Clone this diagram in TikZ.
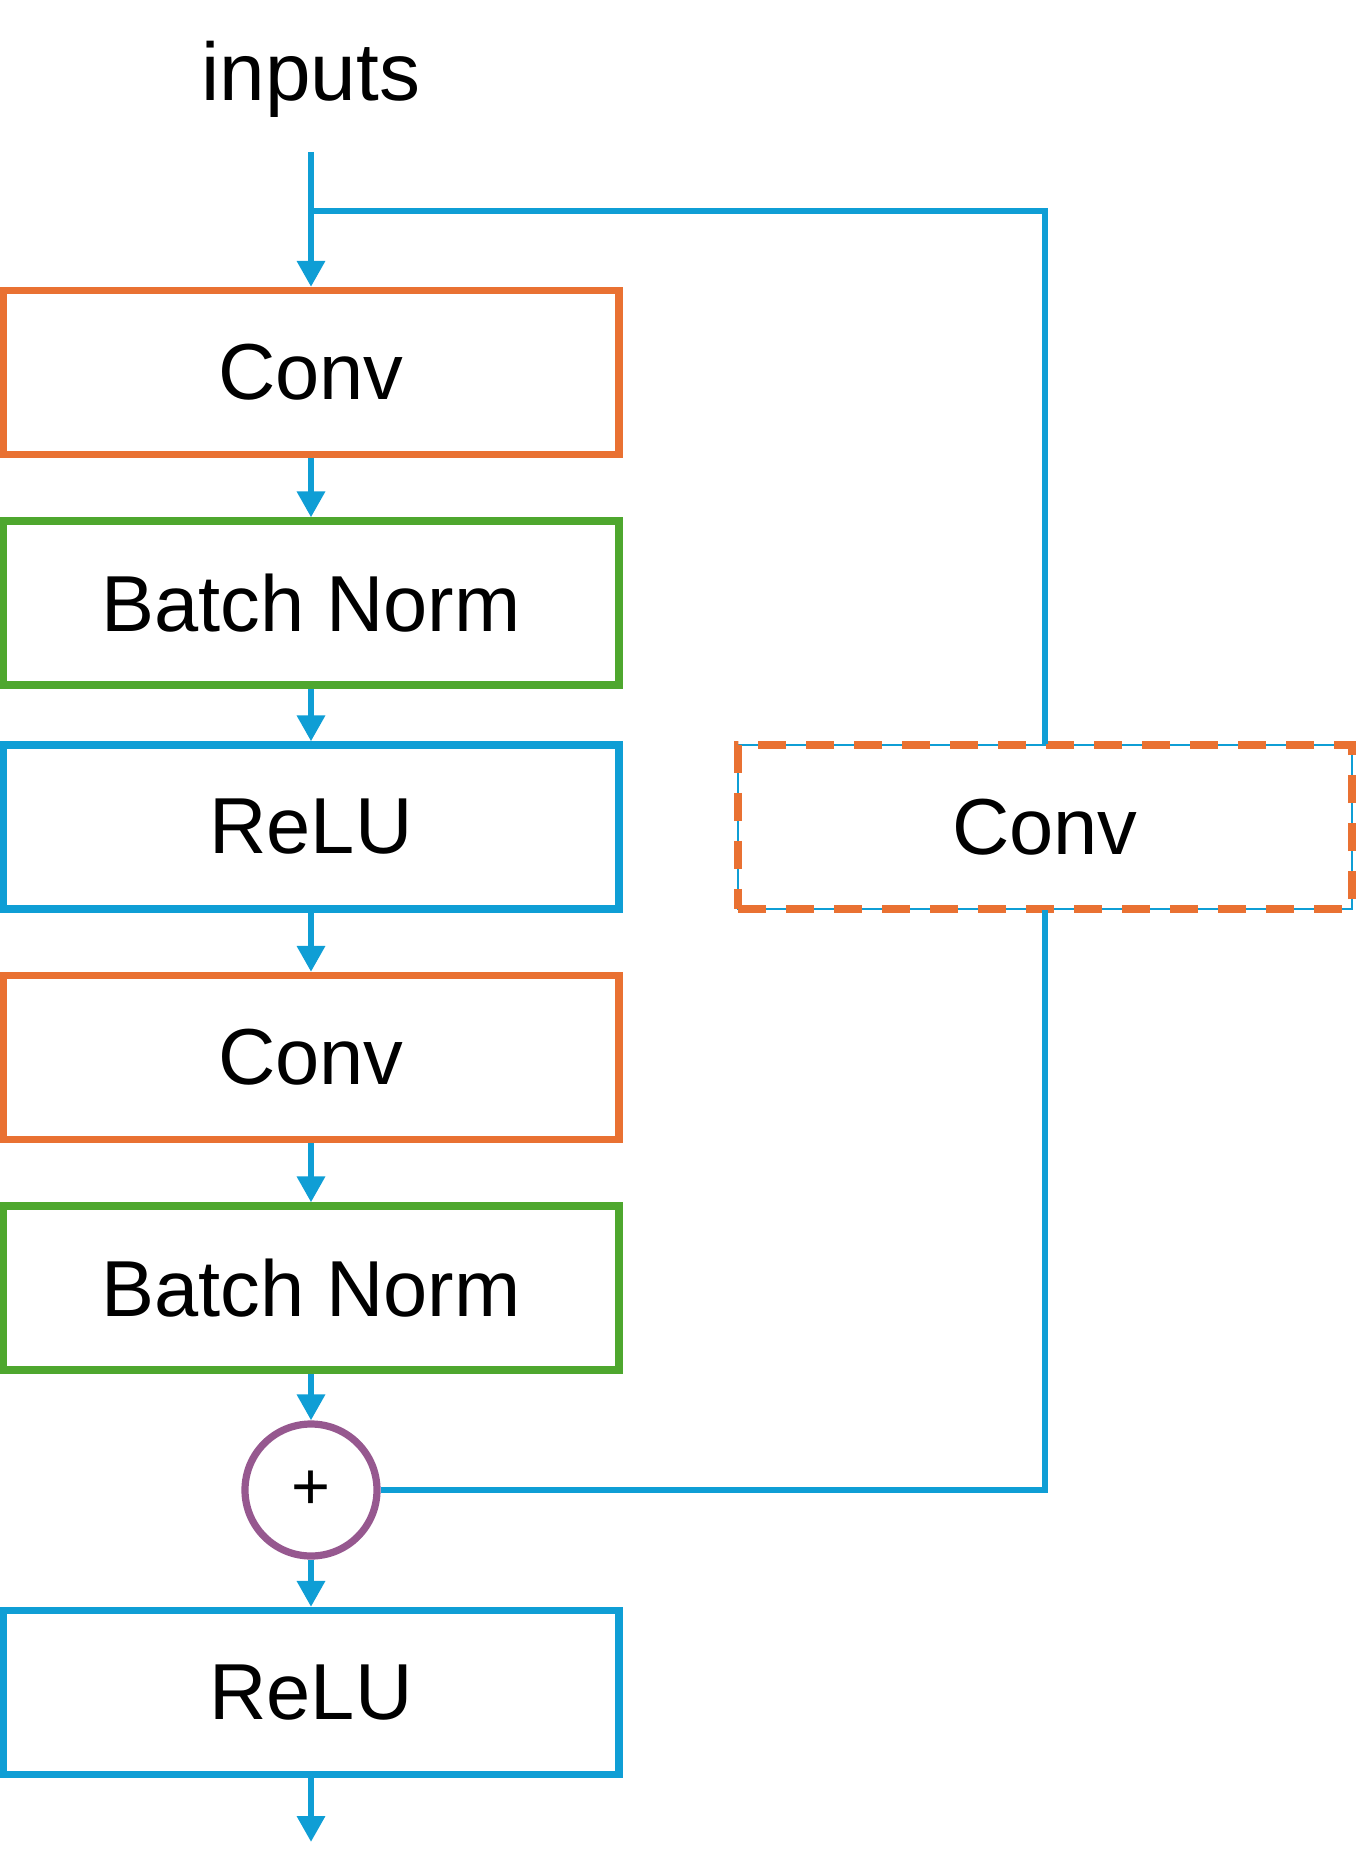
\documentclass[tikz,border=0pt]{standalone}
\usepackage{fontspec}
\setmainfont{Liberation Sans}
\usepackage{tikz}
\usetikzlibrary{positioning}
\usetikzlibrary{arrows.meta}
\definecolor{convcol}{HTML}{E97132}
\definecolor{normcol}{HTML}{4EA72E}
\definecolor{relucol}{HTML}{0F9ED5}
\definecolor{addcol}{HTML}{96588F}
\tikzset{
  layer/.style={rectangle, line width=2.05pt, fill=white,
    minimum width=6.16cm, minimum height=1.64cm,
    font=\fontsize{22.6}{27}\selectfont},
  flow/.style={line width=1.8pt, draw=relucol,
    -{Triangle[length=0.26cm, width=0.27cm]}},
  skip/.style={line width=1.8pt, draw=relucol},
}

\begin{document}
\begin{tikzpicture}[scale=1]
\useasboundingbox (0,0) rectangle (13.56,-18.71);

% ================= Main path =================
\node[font=\fontsize{23.3}{28}\selectfont] (inputs) at (3.11,-0.79) {inputs};
\coordinate (src) at (3.11,-1.52);
\coordinate (split) at (3.11,-2.11);

\node[layer, draw=convcol] (conv1) at (3.11,-3.725) {Conv};
\node[layer, draw=normcol] (bn1)   at (3.11,-6.03)  {Batch Norm};
\node[layer, draw=relucol] (relu1) at (3.11,-8.27)  {ReLU};
\node[layer, draw=convcol] (conv2) at (3.11,-10.575) {Conv};
\node[layer, draw=normcol] (bn2)   at (3.11,-12.88) {Batch Norm};

\node[circle, draw=addcol, line width=2.05pt, minimum size=1.32cm,
  inner sep=0pt, font=\fontsize{19}{22}\selectfont] (add) at (3.11,-14.9) {+};

\node[layer, draw=relucol] (relu2) at (3.11,-16.925) {ReLU};
\coordinate (out) at (3.11,-18.42);

\draw[flow] (src) -- (conv1);
\draw[flow] (conv1) -- (bn1);
\draw[flow] (bn1) -- (relu1);
\draw[flow] (relu1) -- (conv2);
\draw[flow] (conv2) -- (bn2);
\draw[flow] (bn2) -- (add);
\draw[flow] (add) -- (relu2);
\draw[flow] (relu2) -- (out);

% ================= Shortcut =================
\node[layer, draw=relucol, line width=0.35pt, minimum width=6.14cm,
  postaction={draw=convcol, line width=2.2pt, dash pattern=on 0.28cm off 0.2cm}]
  (short) at (10.45,-8.27) {Conv};

\draw[skip] (split) -| (short.north);
\draw[skip] (short.south) |- (add.east);

\end{tikzpicture}
\end{document}
